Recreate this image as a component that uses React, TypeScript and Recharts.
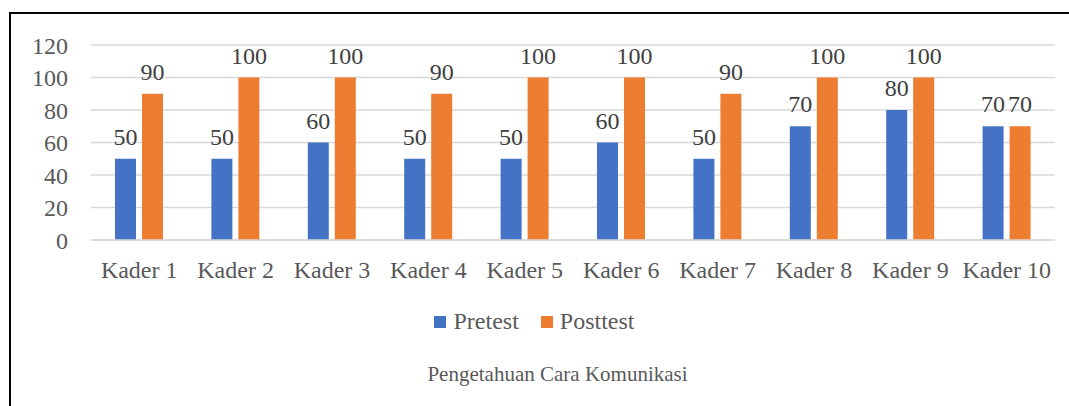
import React from 'react';
import { BarChart, Bar, XAxis, YAxis, CartesianGrid, Legend, LabelList } from 'recharts';

const categories = ['Kader 1', 'Kader 2', 'Kader 3', 'Kader 4', 'Kader 5', 'Kader 6', 'Kader 7', 'Kader 8', 'Kader 9', 'Kader 10'];
const pretest = [50, 50, 60, 50, 50, 60, 50, 70, 80, 70];
const posttest = [90, 100, 100, 90, 100, 100, 90, 100, 100, 70];
const yTicks = [0, 20, 40, 60, 80, 100, 120];
const seriesOrder = ['Pretest', 'Posttest'];

const FONT = 'Liberation Serif';
const BLUE = '#4472C4';
const ORANGE = '#ED7D31';

const data = categories.map((name, i) => ({ name, Pretest: pretest[i], Posttest: posttest[i] }));

// legend drawn like the Excel one: small squares, large grey text
const renderLegend = (props: any) => {
  const items = [...(props.payload || [])].sort(
    (a: any, b: any) => seriesOrder.indexOf(a.value) - seriesOrder.indexOf(b.value)
  );
  return (
    <div style={{ display: 'flex', justifyContent: 'center', alignItems: 'center' }}>
      {items.map((entry: any, index: number) => (
        <div key={`item-${index}`} style={{ display: 'flex', alignItems: 'center', marginLeft: index ? 22 : 0 }}>
          <span style={{ width: 12, height: 12, background: entry.color, display: 'inline-block', marginRight: 7 }} />
          <span style={{ fontFamily: FONT, fontSize: 24, color: '#595959' }}>{entry.value}</span>
        </div>
      ))}
    </div>
  );
};

const tickStyle = { fill: '#595959', fontFamily: FONT, fontSize: 24 };

const App: React.FC = () => {
  return (
    <div style={{ position: 'absolute', left: 0, top: 0, width: 1069, height: 406, background: '#fff', overflow: 'hidden', fontFamily: FONT }}>
      <div
        style={{
          position: 'absolute',
          left: 9,
          top: 12,
          width: 1100,
          height: 420,
          borderLeft: '2px solid #000',
          borderTop: '2px solid #000',
        }}
      />
      <div style={{ position: 'absolute', left: 0, top: 0 }}>
        <BarChart
          width={1069}
          height={406}
          data={data}
          margin={{ top: 45, right: 14, bottom: 126, left: 0 }}
          barCategoryGap="25%"
          barGap={6}
        >
          <CartesianGrid vertical={false} stroke="#d9d9d9" strokeWidth={1.5} />
          <XAxis
            dataKey="name"
            height={40}
            tickLine={false}
            axisLine={{ stroke: '#d9d9d9', strokeWidth: 1.5 }}
            tickMargin={15}
            interval={0}
            tick={tickStyle}
          />
          <YAxis
            width={91}
            domain={[0, 120]}
            ticks={yTicks}
            tickLine={false}
            axisLine={false}
            tickMargin={17}
            tick={tickStyle}
          />
          <Legend
            layout="horizontal"
            verticalAlign="middle"
            align="center"
            wrapperStyle={{ top: 308, left: 0, width: 1069 }}
            content={renderLegend}
          />
          <Bar dataKey="Pretest" fill={BLUE} barSize={21} isAnimationActive={false}>
            <LabelList dataKey="Pretest" position="top" offset={14} fill="#404040" fontFamily={FONT} fontSize={24} />
          </Bar>
          <Bar dataKey="Posttest" fill={ORANGE} barSize={21} isAnimationActive={false}>
            <LabelList dataKey="Posttest" position="top" offset={14} fill="#404040" fontFamily={FONT} fontSize={24} />
          </Bar>
        </BarChart>
      </div>
      <div
        style={{
          position: 'absolute',
          left: 0,
          top: 362,
          width: 1115,
          textAlign: 'center',
          fontFamily: FONT,
          fontSize: 21,
          color: '#595959',
        }}
      >
        Pengetahuan Cara Komunikasi
      </div>
    </div>
  );
};

export default App;
